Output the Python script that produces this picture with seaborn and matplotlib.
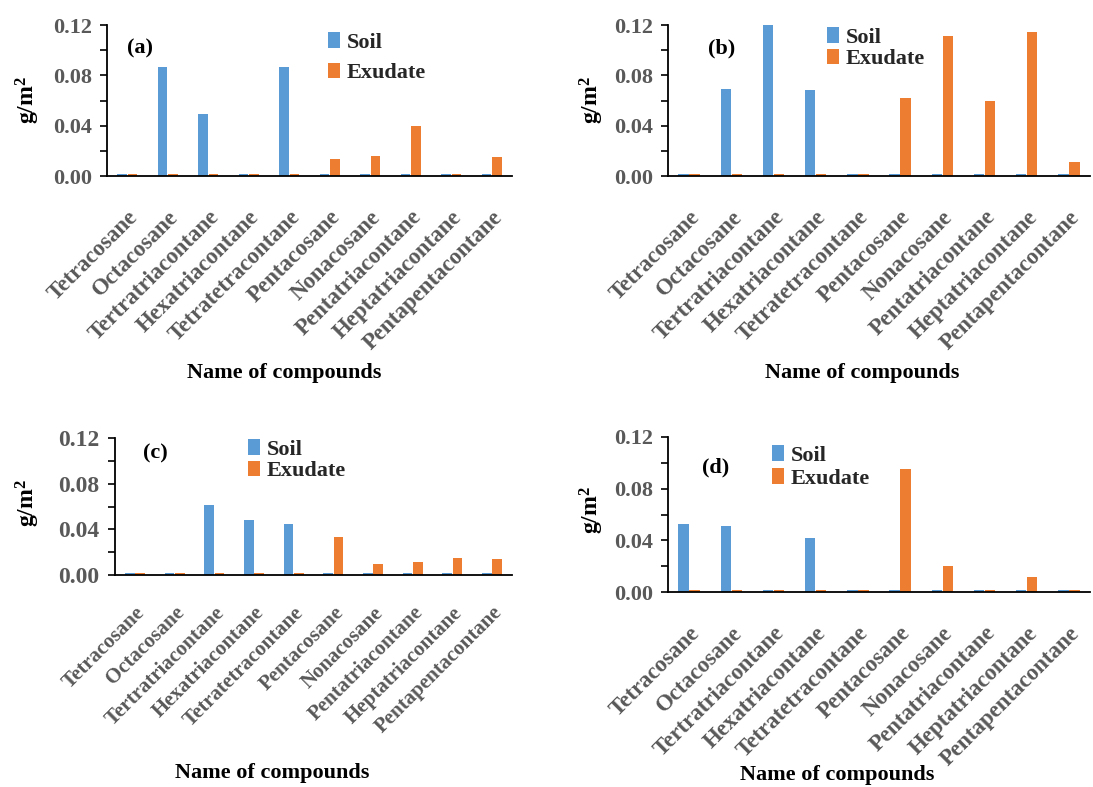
import matplotlib
matplotlib.use("Agg")
import matplotlib.pyplot as plt
import seaborn as sns
import pandas as pd

compounds = ["Tetracosane", "Octacosane", "Tertratriacontane", "Hexatriacontane",
             "Tetratetracontane", "Pentacosane", "Nonacosane", "Pentatriacontane",
             "Heptatriacontane", "Pentapentacontane"]

soil_a = [0.0015, 0.087, 0.0496, 0.0015, 0.087, 0.0015, 0.0015, 0.0015, 0.0015, 0.0015]
exud_a = [0.0015, 0.0015, 0.0015, 0.0015, 0.0015, 0.0135, 0.016, 0.040, 0.0015, 0.015]

soil_b = [0.0015, 0.0693, 0.1208, 0.0682, 0.0015, 0.0015, 0.0015, 0.0015, 0.0015, 0.0015]
exud_b = [0.0015, 0.0015, 0.0015, 0.0015, 0.0015, 0.062, 0.111, 0.060, 0.1144, 0.0115]

soil_c = [0.0015, 0.0015, 0.0613, 0.0485, 0.0447, 0.0015, 0.0015, 0.0015, 0.0015, 0.0015]
exud_c = [0.0015, 0.0015, 0.0015, 0.0015, 0.0015, 0.0336, 0.0093, 0.0117, 0.0152, 0.0137]

soil_d = [0.0529, 0.0511, 0.0015, 0.0421, 0.0015, 0.0015, 0.0015, 0.0015, 0.0015, 0.0015]
exud_d = [0.0015, 0.0015, 0.0015, 0.0015, 0.0015, 0.0955, 0.0204, 0.0015, 0.0113, 0.0015]

panels = ["(a)", "(b)", "(c)", "(d)"]
series_names = ["Soil", "Exudate"]
yticks = [0.00, 0.02, 0.04, 0.06, 0.08, 0.10, 0.12]
ylabels = ["0.00", "", "0.04", "", "0.08", "", "0.12"]

sns.set_theme(style="white")
plt.rcParams["font.family"] = ["Liberation Serif", "DejaVu Serif"]
plt.rcParams["font.weight"] = "bold"
plt.rcParams["mathtext.fontset"] = "custom"
plt.rcParams["mathtext.rm"] = "Liberation Serif:bold"
plt.rcParams["mathtext.bf"] = "Liberation Serif:bold"
plt.rcParams["mathtext.it"] = "Liberation Serif:bold"

W, H = 1093, 787
fig = plt.figure(figsize=(W / 100, H / 100), dpi=100)
palette = {"Soil": "#5B9BD5", "Exudate": "#ED7D31"}
gray = "#595959"

# pixel boxes: left, top, right, bottom
boxes = [(107, 25, 512, 176), (668, 25, 1090, 176), (115, 438, 512, 575), (668, 437, 1090, 592)]
data = [(soil_a, exud_a), (soil_b, exud_b), (soil_c, exud_c), (soil_d, exud_d)]
tick_fs = [16, 16, 17, 16]
xt_fs = [16.5, 16.5, 15, 16.5]
xt_pad = [22, 22, 20, 22]
panel_pos = [(140, 48), (722, 48), (155, 453), (716, 467)]
ylab_pos = [(28, 100), (592, 100), (28, 503), (592, 510)]
xlab_pos = [(284, 373), (862, 373), (272, 773), (837, 775)]
leg_pos = [(328, 32, 0.45), (827, 27, 0.05), (248, 439, 0.05), (772, 445, 0.12)]

for i in range(4):
    l, t, r, b = boxes[i]
    ax = fig.add_axes([l / W, 1 - b / H, (r - l) / W, (b - t) / H])
    soil, exud = data[i]
    df = pd.DataFrame({
        "compound": compounds * 2,
        "value": soil + exud,
        "series": [series_names[0]] * len(compounds) + [series_names[1]] * len(compounds),
    })
    sns.barplot(data=df, x="compound", y="value", hue="series", palette=palette,
                saturation=1, width=0.52, gap=0.06, linewidth=0,
                ax=ax, legend=True)
    ax.set_xlim(-0.5, len(compounds) - 0.5)
    ax.set_ylim(0, 0.12)
    ax.set_yticks(yticks)
    ax.set_yticklabels(ylabels)
    ax.tick_params(axis="y", direction="out", length=5, width=1.2, color="black",
                   labelsize=tick_fs[i], labelcolor=gray, pad=6, left=True)
    ax.tick_params(axis="x", length=0, labelsize=xt_fs[i], labelcolor=gray, pad=xt_pad[i])
    for lab in ax.get_yticklabels():
        lab.set_fontweight("bold")
    ax.set_xticks(range(len(compounds)))
    ax.set_xticklabels(compounds, rotation=45, ha="right", rotation_mode="anchor",
                       fontweight="bold")
    for s in ["top", "right"]:
        ax.spines[s].set_visible(False)
    for s in ["left", "bottom"]:
        ax.spines[s].set_color("black")
        ax.spines[s].set_linewidth(1.3)
    ax.set_xlabel("")
    ax.set_ylabel("")
    ax.set_facecolor("white")

    lx, ly, ls = leg_pos[i]
    handles, labels = ax.get_legend_handles_labels()
    ax.legend(handles, labels, loc="upper left",
              bbox_to_anchor=(lx / W, 1 - ly / H), bbox_transform=fig.transFigure,
              frameon=False, borderpad=0, borderaxespad=0, handlelength=0.55,
              handleheight=0.7, handletextpad=0.3, labelspacing=ls,
              prop={"family": "Liberation Serif", "weight": "bold", "size": 16})

    px, py = panel_pos[i]
    fig.text(px / W, 1 - py / H, panels[i], ha="center", va="center",
             fontsize=16, fontweight="bold", color="black")
    yx, yy = ylab_pos[i]
    fig.text(yx / W, 1 - yy / H, "g/m$^{2}$", rotation=90, ha="center", va="center",
             fontsize=17, fontweight="bold", color="black")
    xx, xy = xlab_pos[i]
    fig.text(xx / W, 1 - xy / H, "Name of compounds", ha="center", va="center",
             fontsize=16, fontweight="bold", color="black")

fig.savefig("out.png", dpi=100, facecolor="white")
